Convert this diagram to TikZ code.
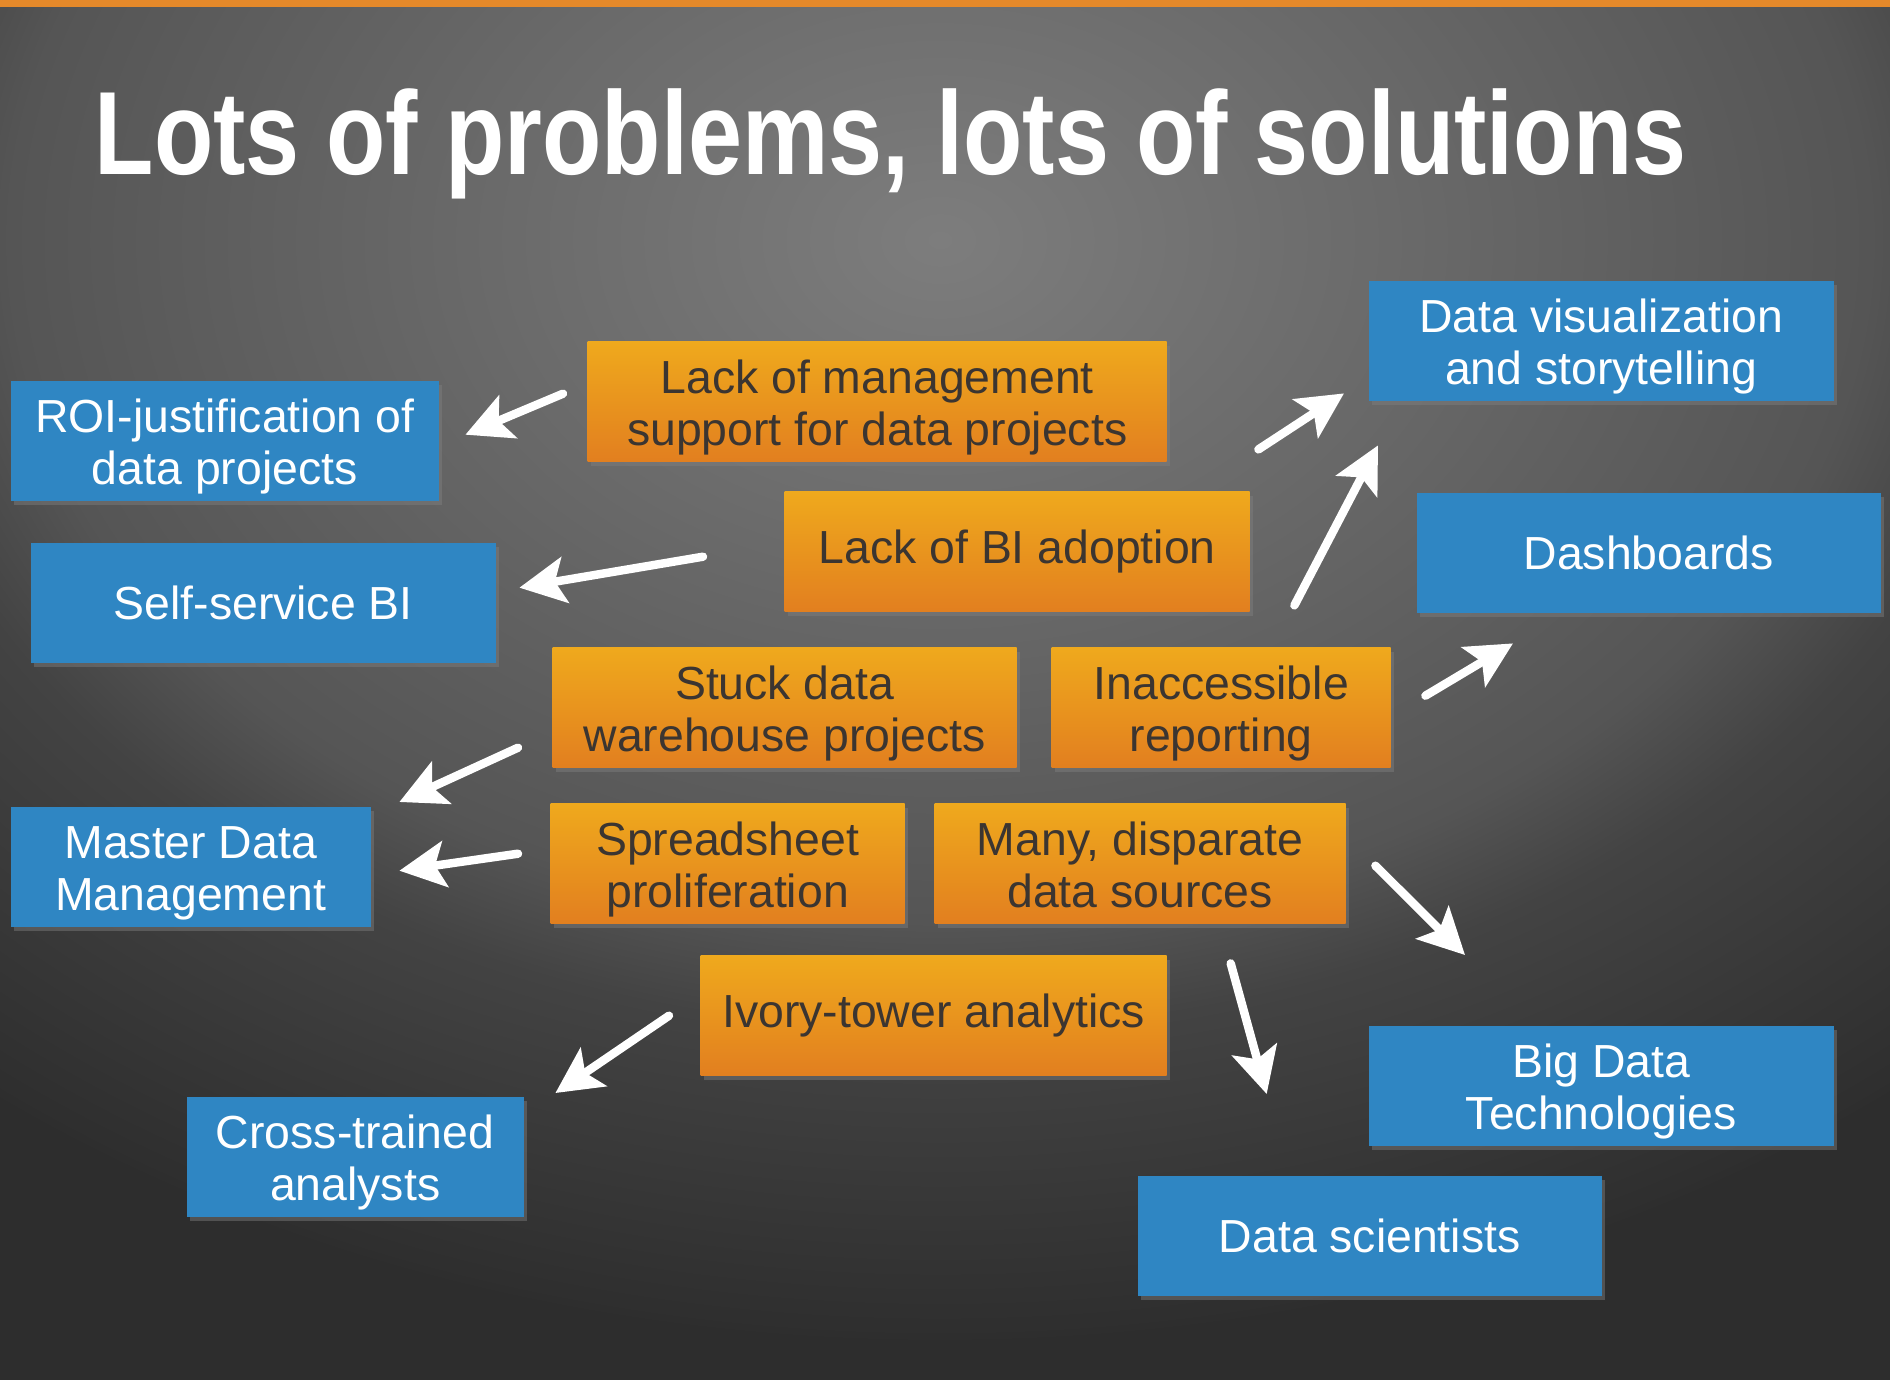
\documentclass[tikz,border=0pt]{standalone}
\usepackage{fontspec}
\setmainfont{Liberation Sans}
\newfontfamily\titlefont[FakeStretch=0.82]{Liberation Sans}
\usetikzlibrary{arrows.meta,shadows}
\definecolor{slidebar}{HTML}{E5892A}
\definecolor{bglight}{HTML}{7D7D7D}
\definecolor{bgmid}{HTML}{6A6A6A}
\definecolor{bgupper}{HTML}{555555}
\definecolor{bgdeep}{HTML}{434343}
\definecolor{bglow}{HTML}{2E2E2E}
\definecolor{bgdark}{HTML}{2D2D2D}
\definecolor{solblue}{HTML}{2F86C3}
\definecolor{probtop}{HTML}{EFA91D}
\definecolor{probbot}{HTML}{E27F1F}
\definecolor{probtext}{HTML}{3B3531}
\pgfdeclareradialshading{slidebg}{\pgfpoint{0bp}{0bp}}{color(0bp)=(bglight); color(7.5bp)=(bgmid); color(15.5bp)=(bgupper); color(18bp)=(bgdeep); color(25bp)=(bglow); color(50bp)=(bgdark)}
\tikzset{
  box/.style={minimum height=1.2cm, inner sep=0pt, anchor=north west, align=center,
    font=\fontsize{13.2}{15}\selectfont,
    drop shadow={shadow xshift=0.03cm, shadow yshift=-0.04cm, opacity=0.45}},
  twoline/.style={text height=28pt, text depth=2.8pt},
  solution/.style={box, fill=solblue, text=white},
  problem/.style={box, top color=probtop, bottom color=probbot, text=probtext},
  chalk/.style={draw=white, line width=2.4pt, line cap=round,
    -{Stealth[length=0.46cm, width=0.46cm, inset=0.1cm]}},
}
\begin{document}
\begin{tikzpicture}
  % slide background
  \useasboundingbox (0,0) rectangle (18.9,-13.8);
  \fill[bgdark] (0,0) rectangle (18.9,-13.8);
  \begin{scope}
    \clip (0,0) rectangle (18.9,-13.8);
    \shade[shading=slidebg] (9.4,-2.4) ellipse (15 and 11);
  \end{scope}
  \fill[slidebar] (0,0) rectangle (18.9,-0.07);

  \node[anchor=base west, text=white, inner sep=0pt,
    font=\titlefont\bfseries\fontsize{33.7}{40}\selectfont] (title) at (0.94,-1.75)
    {Lots of problems, lots of solutions};

  % problems
  \node[problem, twoline, minimum width=5.79cm] (lackmgmt) at (5.87,-3.41) {Lack of management\\support for data projects};
  \node[problem, minimum width=4.65cm] (lackbi) at (7.84,-4.91) {Lack of BI adoption};
  \node[problem, twoline, minimum width=4.64cm] (stuckdw) at (5.52,-6.47) {Stuck data\\warehouse projects};
  \node[problem, twoline, minimum width=3.39cm] (inaccess) at (10.51,-6.47) {Inaccessible\\reporting};
  \node[problem, twoline, minimum width=3.54cm] (spread) at (5.50,-8.03) {Spreadsheet\\proliferation};
  \node[problem, twoline, minimum width=4.11cm] (disparate) at (9.34,-8.03) {Many, disparate\\data sources};
  \node[problem, minimum width=4.66cm] (ivory) at (7.00,-9.55) {Ivory-tower analytics};

  % solutions
  \node[solution, twoline, minimum width=4.65cm] (dataviz) at (13.68,-2.80) {Data visualization\\and storytelling};
  \node[solution, twoline, minimum width=4.28cm] (roi) at (0.10,-3.80) {ROI-justification of\\data projects};
  \node[solution, minimum width=4.65cm] (selfbi) at (0.30,-5.42) {Self-service BI};
  \node[solution, minimum width=4.64cm] (dash) at (14.16,-4.92) {Dashboards};
  \node[solution, twoline, minimum width=3.60cm] (mdm) at (0.10,-8.06) {Master Data\\Management};
  \node[solution, twoline, minimum width=3.37cm] (crossan) at (1.86,-10.96) {Cross-trained\\analysts};
  \node[solution, twoline, minimum width=4.65cm] (bigdata) at (13.68,-10.25) {Big Data\\Technologies};
  \node[solution, minimum width=4.64cm] (datasci) at (11.37,-11.75) {Data scientists};

  % chalk arrows
  \draw[chalk] ([shift={(-0.24,0.08)}]lackmgmt.west) -- ([shift={(0.26,0.06)}]roi.east);
  \draw[chalk] ([shift={(-0.81,-0.05)}]lackbi.west) -- ([shift={(0.23,0.15)}]selfbi.east);
  \draw[chalk] ([shift={(-0.34,-0.40)}]stuckdw.west) -- ([shift={(0.28,0.04)}]mdm.north east);
  \draw[chalk] ([shift={(-0.32,0.10)}]spread.west) -- ([shift={(0.28,-0.04)}]mdm.east);
  \draw[chalk] ([shift={(-0.31,0)}]ivory.west) -- ([shift={(0.31,0.03)}]crossan.north east);
  \draw[chalk] ([shift={(0.91,0.13)}]lackmgmt.south east) -- ([shift={(-0.24,0.08)}]dataviz.south west);
  \draw[chalk] ([shift={(0.44,0.07)}]lackbi.south east) -- ([shift={(0.10,-0.44)}]dataviz.south west);
  \draw[chalk] ([shift={(0.34,0.12)}]inaccess.east) -- ([shift={(0.97,-0.30)}]dash.south west);
  \draw[chalk] ([shift={(0.29,-0.02)}]disparate.east) -- ([shift={(0.97,0.70)}]bigdata.north west);
  \draw[chalk] ([shift={(0.905,-0.39)}]disparate.south) -- ([shift={(-1.03,0.81)}]datasci.north);
\end{tikzpicture}
\end{document}
